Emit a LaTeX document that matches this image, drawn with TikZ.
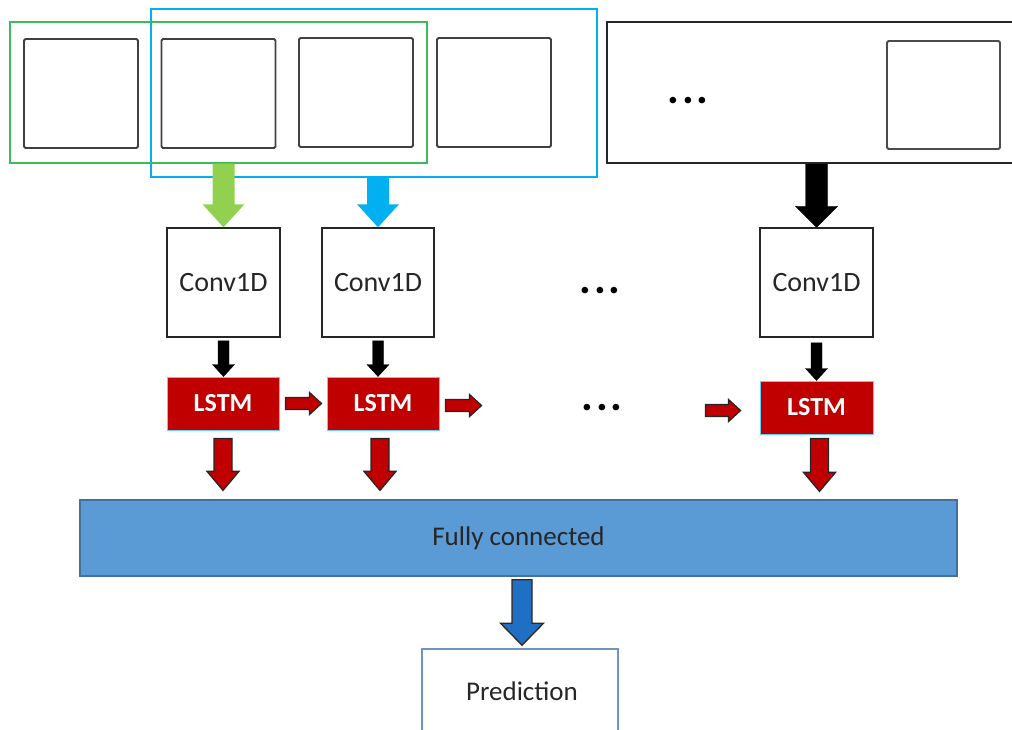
\documentclass[tikz,border=0pt]{standalone}
\usepackage{fontspec}
\setmainfont{Carlito}
\usetikzlibrary{calc}
\definecolor{lstmred}{HTML}{C00000}
\definecolor{fcblue}{HTML}{5B9BD5}
\definecolor{fcborder}{HTML}{41719C}
\definecolor{grn}{HTML}{92D050}
\definecolor{grnline}{HTML}{3DBB5A}
\definecolor{cyanb}{HTML}{00B0F0}
\definecolor{darkblue}{HTML}{1F6FC5}
\definecolor{predborder}{HTML}{6F93C2}
\newcommand\varr[6]{\path[#6] ($(#1)+(-#3,0)$) -- ($(#1)+(#3,0)$) -- ($(#2)+(#3,-#5)$) -- ($(#2)+(#4,-#5)$) -- (#2) -- ($(#2)+(-#4,-#5)$) -- ($(#2)+(-#3,-#5)$) -- cycle;}
\newcommand\harr[6]{\path[#6] ($(#1)+(0,-#3)$) -- ($(#2)+(-#5,-#3)$) -- ($(#2)+(-#5,-#4)$) -- (#2) -- ($(#2)+(-#5,#4)$) -- ($(#2)+(-#5,#3)$) -- ($(#1)+(0,#3)$) -- cycle;}
\tikzset{
  sq/.style={draw=black!75, line width=1.8pt, rounded corners=1.5pt, inner sep=0pt, minimum width=114pt, minimum height=109pt},
  conv/.style={draw=black!85, line width=1.5pt, fill=white, inner sep=0pt, minimum width=113pt, minimum height=109pt, font=\fontsize{28}{32}\selectfont, text=black!85},
  lstm/.style={draw=cyanb!60, line width=1pt, fill=lstmred, inner sep=0pt, minimum width=112pt, minimum height=53pt, font=\fontsize{26}{30}\selectfont\bfseries, text=white},
  redarr/.style={fill=lstmred, draw=black!85, line width=1.3pt, line join=miter},
  blkarr/.style={fill=black, draw=black},
  dots/.style={font=\fontsize{44}{48}\selectfont\bfseries, inner sep=0pt}
}
\begin{document}
\begin{tikzpicture}[x=1pt,y=-1pt]
\useasboundingbox (0,0) rectangle (1012,729);
\clip (0,0) rectangle (1012,729);
% input sequence
\node[draw=black!85, line width=2.2pt, minimum width=423pt, minimum height=141pt, inner sep=0pt] (big) at (818.5,92.5) {};
\node[sq] (s1) at (81,93.5) {};
\node[sq] (s2) at (218.5,93.5) {};
\node[sq] (s3) at (356,92.5) {};
\node[sq] (s4) at (494,92.5) {};
\node[sq, minimum width=113pt, minimum height=108pt, draw=black!70] (s5) at (943.5,95) {};
\node[dots] (d0) at (688,101) {.\hspace{3pt}.\hspace{3pt}.};
\node[draw=cyanb, line width=1.3pt, minimum width=446pt, minimum height=168pt, inner sep=0pt] (blue) at (374,93) {};
\node[draw=grnline, line width=1.3pt, minimum width=417pt, minimum height=141pt, inner sep=0pt] (green) at (218.5,92.5) {};
% conv boxes
\node[conv] (c1) at (223.5,282.5) {Conv1D};
\node[conv, minimum width=112pt] (c2) at (378,282.5) {Conv1D};
\node[conv] (c3) at (816.5,282.5) {Conv1D};
\node[dots] (d1) at (600,291) {.\hspace{3pt}.\hspace{3pt}.};
% arrows into conv
\coordinate (g0) at (c1.north |- green.south);
\coordinate (b0) at (c2.north |- blue.south);
\coordinate (k0) at (c3.north |- big.south);
\varr{g0}{c1.north}{11}{21}{23}{fill=grn}
\varr{b0}{c2.north}{11}{21}{23}{fill=cyanb}
\varr{k0}{c3.north}{11}{21}{21}{blkarr}
% LSTM boxes
\node[lstm] (l1) at (223,403.5) {LSTM};
\node[lstm] (l2) at (383,403.5) {LSTM};
\node[lstm, minimum width=113pt] (l3) at (816.5,407.5) {LSTM};
\node[dots] (d2) at (602,408) {.\hspace{3pt}.\hspace{3pt}.};
% conv -> lstm
\coordinate (ca1) at ($(c1.south)+(0,3)$);
\coordinate (cb1) at (c1.south |- l1.north);
\coordinate (ca2) at ($(c2.south)+(0,3)$);
\coordinate (cb2) at (c2.south |- l2.north);
\coordinate (ca3) at ($(c3.south)+(0,5)$);
\coordinate (cb3) at (c3.south |- l3.north);
\varr{ca1}{cb1}{5.5}{11}{12}{blkarr}
\varr{ca2}{cb2}{5.5}{11}{12}{blkarr}
\varr{ca3}{cb3}{5.5}{11}{12}{blkarr}
% horizontal recurrent arrows
\coordinate (h1a) at ($(l1.east)+(6,0)$);
\coordinate (h1b) at ($(l2.west)+(-5,0)$);
\coordinate (h2a) at ($(l2.east)+(6,2)$);
\coordinate (h2b) at ($(l2.east)+(42,2)$);
\coordinate (h3a) at ($(l3.west)+(-54,3)$);
\coordinate (h3b) at ($(l3.west)+(-19,3)$);
\harr{h1a}{h1b}{6}{11}{12}{redarr}
\harr{h2a}{h2b}{6}{11}{12}{redarr}
\harr{h3a}{h3b}{6}{11}{12}{redarr}
% fully connected
\node[draw=fcborder, line width=1.3pt, fill=fcblue, minimum width=877pt, minimum height=76pt, inner sep=0pt, font=\fontsize{27}{32}\selectfont, text=black!85] (fc) at (518.5,538) {Fully connected};
\coordinate (r1a) at ($(l1.south)+(0,8)$);
\coordinate (r1b) at ($(l1.south |- fc.north)+(0,-9)$);
\coordinate (r2a) at ($(l2.south)+(-3,8)$);
\coordinate (r2b) at ($(l2.south |- fc.north)+(-3,-9)$);
\coordinate (r3a) at ($(l3.south)+(3,4)$);
\coordinate (r3b) at ($(l3.south |- fc.north)+(3,-8)$);
\varr{r1a}{r1b}{9}{16}{19}{redarr}
\varr{r2a}{r2b}{9}{16}{19}{redarr}
\varr{r3a}{r3b}{9}{16}{19}{redarr}
% prediction
\node[draw=predborder, line width=1.5pt, fill=white, minimum width=196pt, minimum height=111pt, inner sep=0pt] (pred) at (520,704.5) {};
\node[font=\fontsize{27}{32}\selectfont, text=black!85] (predtxt) at (522,691) {Prediction};
\coordinate (pa) at ($(pred.north |- fc.south)+(2,3)$);
\coordinate (pb) at ($(pred.north)+(2,-3)$);
\varr{pa}{pb}{10}{21.5}{22}{fill=darkblue, draw=black!70!brown, line width=1.3pt}
\end{tikzpicture}
\end{document}
